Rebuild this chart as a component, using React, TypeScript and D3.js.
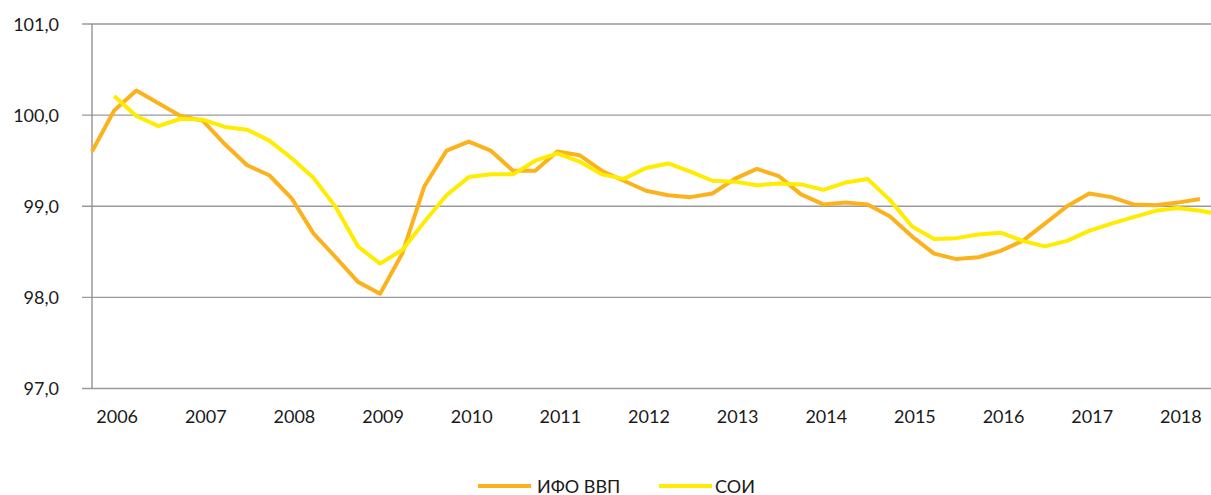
import * as d3 from "d3";
import { useEffect, useRef } from "react";

// quarters, from IV 2005 to III 2018
const quarters: string[] = [];
for (let y = 2005; y <= 2018; y++) {
    for (let q = 1; q <= 4; q++) {
        if ((y === 2005 && q < 4) || (y === 2018 && q > 3)) continue;
        quarters.push(`${y}Q${q}`);
    }
}

const ifoVvp: (number | null)[] = [
    99.60, 100.05, 100.27, 100.13, 99.99, 99.94, 99.68, 99.45, 99.34, 99.09,
    98.70, 98.44, 98.17, 98.04, 98.48, 99.22, 99.61, 99.71, 99.61, 99.39,
    99.39, 99.60, 99.56, 99.39, 99.28, 99.17, 99.12, 99.10, 99.14, 99.30,
    99.41, 99.33, 99.13, 99.02, 99.04, 99.02, 98.89, 98.67, 98.48, 98.42,
    98.44, 98.51, 98.62, 98.81, 99.00, 99.14, 99.10, 99.02, 99.01, 99.04,
    99.08, null
];

const soi: (number | null)[] = [
    null, 100.21, 99.99, 99.88, 99.96, 99.95, 99.87, 99.84, 99.72, 99.53,
    99.31, 98.99, 98.56, 98.37, 98.52, 98.83, 99.12, 99.32, 99.35, 99.35,
    99.50, 99.58, 99.49, 99.35, 99.30, 99.42, 99.47, 99.38, 99.28, 99.27,
    99.23, 99.25, 99.24, 99.18, 99.26, 99.30, 99.07, 98.78, 98.64, 98.65,
    98.69, 98.71, 98.62, 98.56, 98.62, 98.73, 98.81, 98.88, 98.95, 98.98,
    98.95, 98.91
];

const yTicks = [97, 98, 99, 100, 101];

const seriesNames = ["ИФО ВВП", "СОИ"];
const seriesColors = ["#FBB21C", "#FFEC00"];

const App = () => {
    const svgRef = useRef<SVGSVGElement | null>(null);

    useEffect(() => {
        if (!svgRef.current) return;

        const width = 1211;
        const height = 495;
        const font = "Lato, 'Open Sans', sans-serif";

        const svg = d3.select(svgRef.current)
            .attr("width", width)
            .attr("height", height)
            .style("position", "absolute")
            .style("left", "0px")
            .style("top", "0px")
            .style("background", "#fff")
            .style("overflow", "hidden");

        svg.selectAll("*").remove();

        const x = d3.scalePoint<string>()
            .domain(quarters)
            .range([92, 92 + 22.16 * (quarters.length - 1)]);

        const y = d3.scaleLinear()
            .domain([97, 101])
            .range([388.5, 24]);

        // gridlines
        svg.append("g")
            .selectAll("line")
            .data(yTicks)
            .join("line")
            .attr("x1", 82)
            .attr("x2", width)
            .attr("y1", d => y(d))
            .attr("y2", d => y(d))
            .attr("stroke", "#9a9a9a")
            .attr("stroke-width", 1.3);

        // y axis line
        svg.append("line")
            .attr("x1", 92)
            .attr("x2", 92)
            .attr("y1", y(101))
            .attr("y2", y(97))
            .attr("stroke", "#8c8c8c")
            .attr("stroke-width", 1.3);

        // y tick labels
        svg.append("g")
            .selectAll("text")
            .data(yTicks)
            .join("text")
            .attr("x", 59)
            .attr("y", d => y(d) + 6.5)
            .attr("text-anchor", "end")
            .attr("font-family", font)
            .attr("font-size", 18)
            .attr("fill", "#1a1a1a")
            .text(d => d3.format(".1f")(d).replace(".", ","));

        // x labels, one per year
        const yearQuarters = quarters.filter(q => q.endsWith("Q1"));
        svg.append("g")
            .selectAll("text")
            .data(yearQuarters)
            .join("text")
            .attr("x", d => x(d)! + 3)
            .attr("y", 423)
            .attr("text-anchor", "middle")
            .attr("font-family", font)
            .attr("font-size", 18)
            .attr("fill", "#1a1a1a")
            .text(d => d.slice(0, 4));

        // lines
        const series = [ifoVvp, soi];
        const line = d3.line<number | null>()
            .defined(d => d !== null)
            .x((_, i) => x(quarters[i])!)
            .y(d => y(d as number));

        series.forEach((s, i) => {
            svg.append("path")
                .datum(s)
                .attr("fill", "none")
                .attr("stroke", seriesColors[i])
                .attr("stroke-width", 4)
                .attr("stroke-linejoin", "round")
                .attr("d", line);
        });

        // legend
        const legendX = [478, 659];
        const legend = svg.append("g")
            .selectAll("g")
            .data(seriesNames)
            .join("g")
            .attr("transform", (_, i) => `translate(${legendX[i]},486)`);

        legend.append("line")
            .attr("x1", 0)
            .attr("x2", 53)
            .attr("stroke", (_, i) => seriesColors[i])
            .attr("stroke-width", 4);

        legend.append("text")
            .attr("x", (_, i) => (i === 0 ? 59 : 56))
            .attr("y", 6.5)
            .attr("font-family", font)
            .attr("font-size", 18)
            .attr("fill", "#1a1a1a")
            .text(d => d);
    }, []);

    return <svg ref={svgRef}></svg>;
};

export default App;
